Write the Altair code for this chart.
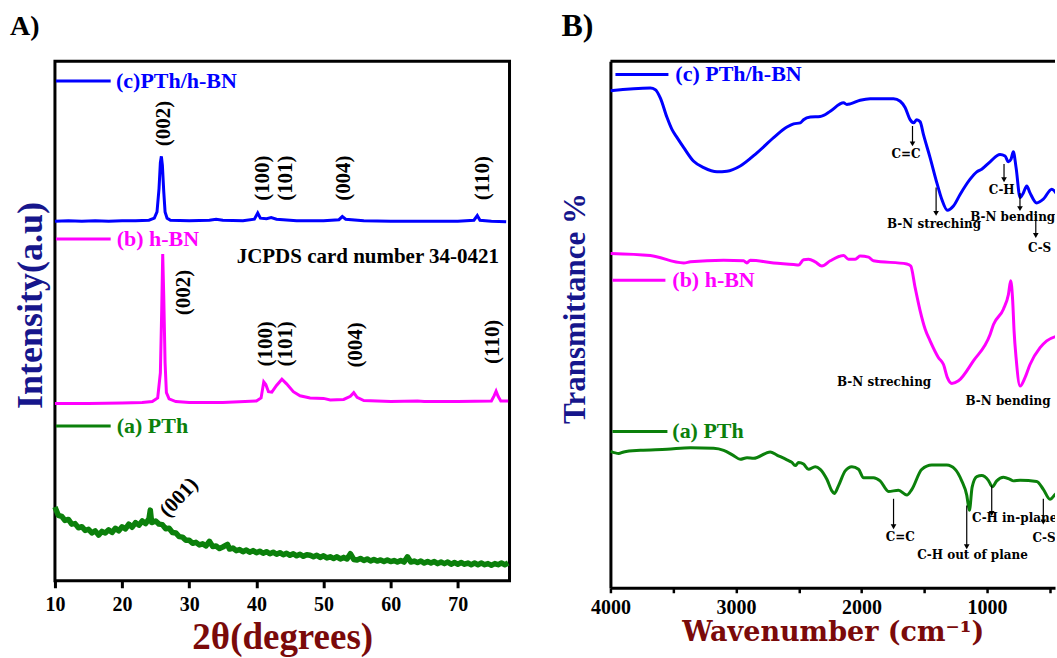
import altair as alt
import pandas as pd

SERIF = "Liberation Serif"
WIDE = "DejaVu Serif"
BLUE = "#0000ff"
MAGENTA = "#ff00ff"
GREEN = "#0b800b"
NAVY = "#16168c"
DARKRED = "#7a0a0a"

# ---------------- Panel A : XRD ----------------
xrd_comp_theta = [10, 12, 14, 16, 18, 20, 22, 24, 24.8, 25.2, 25.5, 25.7, 25.85, 26.0, 26.2, 26.4,
                  26.7, 27.2, 30, 33, 34, 35, 38, 39.7, 40.2, 40.6, 41.5, 42.2, 43, 46, 50, 52.3,
                  52.8, 53.3, 56, 60, 65, 70, 72.4, 72.9, 73.3, 75, 77.2]
xrd_comp_int = [69.2, 69.3, 69.2, 69.3, 69.2, 69.3, 69.3, 69.4, 69.8, 71.0, 75.5, 80.5, 81.7, 80.0,
                75.0, 71.0, 69.8, 69.4, 69.3, 69.4, 69.6, 69.4, 69.3, 69.6, 70.8, 69.8, 69.7, 69.9,
                69.6, 69.3, 69.3, 69.5, 70.1, 69.6, 69.3, 69.2, 69.2, 69.2, 69.4, 70.3, 69.4, 69.2, 69.1]

xrd_hbn_theta = [10, 15, 20, 23, 24.5, 25.3, 25.7, 25.9, 26.05, 26.2, 26.4, 26.6, 27.0, 28, 30, 35,
                 40, 40.7, 41.1, 41.4, 41.8, 42.3, 43.0, 43.8, 44.5, 45.5, 46.5, 48, 50, 51, 53,
                 54.0, 54.5, 55.0, 56, 60, 64, 65, 70, 75, 75.4, 75.7, 76.0, 76.4, 77.5]
xrd_hbn_int = [34.1, 34.1, 34.2, 34.3, 34.5, 35.2, 40.0, 52.0, 62.9, 55.0, 42.0, 36.2, 35.0, 34.5,
               34.3, 34.3, 34.6, 35.2, 38.3, 37.8, 36.4, 36.3, 37.6, 38.8, 37.9, 36.4, 35.6, 35.2,
               35.1, 34.8, 34.9, 35.5, 36.2, 35.3, 34.7, 34.5, 34.6, 34.5, 34.5, 34.6, 35.6, 36.5,
               35.5, 34.6, 34.6]

xrd_pth_points = [
    (10.0, 14.2), (10.5, 12.6), (11.0, 12.4), (11.5, 11.6), (12.0, 11.8), (12.5, 10.9),
    (13.0, 11.0), (13.5, 10.2), (14.0, 10.4), (14.5, 9.7), (15.0, 9.9), (15.5, 9.2),
    (16.0, 9.6), (16.5, 8.8), (17.0, 9.5), (17.5, 9.2), (18.0, 9.8), (18.5, 9.3),
    (19.0, 10.1), (19.5, 9.6), (20.0, 10.4), (20.5, 10.0), (21.0, 10.9), (21.5, 10.3),
    (22.0, 11.2), (22.5, 10.7), (23.0, 11.5), (23.5, 11.0), (24.0, 11.9), (24.2, 13.6),
    (24.4, 11.2), (25.0, 11.5), (25.5, 10.9), (26.0, 10.8), (26.5, 10.0), (27.0, 10.1),
    (27.5, 9.3), (28.0, 9.2), (28.5, 8.5), (29.0, 8.4), (29.5, 7.8), (30.0, 7.8),
    (30.5, 7.2), (31.0, 7.4), (31.5, 6.9), (32.0, 7.1), (32.5, 6.7), (33.0, 7.6),
    (33.5, 6.6), (34.0, 6.7), (34.5, 6.2), (35.0, 6.5), (35.7, 7.0), (36.0, 6.1),
    (36.5, 6.3), (37.0, 5.8), (37.5, 6.0), (38.0, 5.6), (38.5, 5.9), (39.0, 5.5),
    (39.5, 5.8), (40.0, 5.4), (40.5, 5.7), (41.0, 5.3), (41.5, 5.6), (42.0, 5.2),
    (42.5, 5.5), (43.0, 5.1), (43.5, 5.4), (44.0, 5.0), (44.5, 5.3), (45.0, 4.9),
    (45.5, 5.2), (46.0, 4.8), (46.5, 5.1), (47.0, 4.7), (47.5, 5.0), (48.0, 4.9),
    (48.5, 4.6), (49.0, 4.9), (49.5, 4.5), (50.0, 4.8), (50.5, 4.4), (51.0, 4.6),
    (51.5, 4.3), (52.0, 4.6), (52.5, 4.2), (53.0, 4.5), (53.5, 4.2), (54.0, 5.2),
    (54.5, 4.1), (55.0, 4.0), (55.5, 4.3), (56.0, 3.9), (56.5, 4.2), (57.0, 3.8),
    (57.5, 4.1), (58.0, 3.8), (58.5, 4.0), (59.0, 3.7), (59.5, 4.0), (60.0, 3.7),
    (60.5, 3.9), (61.0, 3.6), (61.5, 3.9), (62.0, 3.6), (62.5, 4.6), (63.0, 3.6),
    (63.5, 3.8), (64.0, 3.5), (64.5, 3.8), (65.0, 3.4), (65.5, 3.7), (66.0, 3.4),
    (66.5, 3.7), (67.0, 3.3), (67.5, 3.6), (68.0, 3.3), (68.5, 3.6), (69.0, 3.2),
    (69.5, 3.5), (70.0, 3.2), (70.5, 3.5), (71.0, 3.2), (71.5, 3.4), (72.0, 3.1),
    (72.5, 3.4), (73.0, 3.1), (73.5, 3.4), (74.0, 3.1), (74.5, 3.3), (75.0, 3.0),
    (75.5, 3.3), (76.0, 3.1), (76.5, 3.4), (77.0, 3.1), (77.5, 3.4),
]

xrd_peak_labels = ["(002)", "(100)", "(101)", "(004)", "(110)",
                   "(002)", "(100)", "(101)", "(004)", "(110)"]
xrd_peak_theta = [26.2, 41.0, 44.4, 53.0, 73.7, 29.2, 41.4, 44.4, 54.8, 75.2]
xrd_peak_y = [88.0, 77.5, 77.5, 77.5, 77.5, 55.5, 45.6, 45.6, 45.4, 46.0]
xrd_pth_label = ["(001)"]
xrd_pth_label_theta = [28.5]
xrd_pth_label_y = [16.0]
jcpds_text = ["JCPDS card number 34-0421"]
jcpds_theta = [56.6]
jcpds_y = [62.3]

xrd_legend_names = ["(c)PTh/h-BN", "(b) h-BN", "(a) PTh"]
xrd_legend_y = [96.2, 65.8, 29.8]
xrd_legend_x0 = [10.15, 10.15, 10.15]
xrd_legend_x1 = [18.3, 18.3, 18.3]
xrd_legend_tx = [19.1, 19.2, 19.2]

# ---------------- Panel B : FTIR ----------------
ftir_comp_points = [
    (4000, 94.4), (3682, 94.9), (3642, 94.6), (3602, 93.0), (3549, 89.3), (3509, 87.0),
    (3469, 85.5), (3416, 83.6), (3337, 81.0), (3257, 79.8), (3151, 79.0), (3072, 79.1),
    (2966, 80.1), (2833, 82.6), (2700, 85.5), (2594, 87.5), (2541, 88.1), (2488, 88.3),
    (2462, 88.9), (2408, 89.4), (2329, 89.5), (2302, 89.7), (2249, 90.5), (2143, 92.1),
    (2117, 91.8), (2090, 91.9), (2011, 92.6), (1931, 92.9), (1745, 92.9), (1692, 92.4),
    (1653, 91.2), (1613, 88.9), (1586, 88.3), (1560, 88.9), (1533, 88.5), (1507, 86.1),
    (1454, 81.7), (1400, 76.9), (1361, 73.8), (1316, 71.7), (1268, 72.5), (1215, 74.7),
    (1135, 77.6), (1082, 79.0), (1043, 79.5), (976, 80.9), (897, 82.3), (857, 82.0),
    (830, 80.9), (809, 81.4), (791, 82.8), (769, 79.8), (737, 74.1), (711, 75.0),
    (684, 76.3), (658, 75.0), (605, 73.1), (552, 73.8), (485, 75.7), (443, 74.7),
]
ftir_hbn_points = [
    (4000, 63.5), (3682, 63.1), (3416, 61.7), (3363, 61.9), (3098, 62.2), (2939, 62.1),
    (2913, 61.7), (2886, 62.2), (2700, 61.7), (2541, 61.4), (2501, 61.3), (2462, 62.3),
    (2422, 62.4), (2369, 61.9), (2316, 61.1), (2249, 62.1), (2143, 63.1), (2104, 62.4),
    (2050, 62.4), (2011, 63.0), (1944, 62.8), (1905, 62.1), (1639, 61.5), (1608, 61.1),
    (1573, 57.0), (1533, 52.6), (1493, 49.1), (1454, 46.9), (1387, 43.7), (1347, 42.4),
    (1316, 39.9), (1281, 38.8), (1228, 39.3), (1109, 43.1), (976, 48.1), (949, 50.0),
    (870, 52.9), (830, 55.7), (812, 58.3), (796, 54.5), (785, 48.8), (769, 43.7),
    (737, 38.3), (698, 39.9), (658, 42.4), (578, 45.6), (525, 46.9), (443, 47.8),
]
ftir_pth_points = [
    (4000, 25.9), (3934, 25.5), (3894, 25.8), (3761, 26.1), (3549, 26.3), (3363, 26.6),
    (3178, 26.5), (3098, 26.1), (3019, 25.1), (2966, 24.4), (2912, 24.7), (2859, 24.6),
    (2727, 25.8), (2674, 25.2), (2594, 24.3), (2554, 23.8), (2528, 23.2), (2501, 23.8),
    (2462, 23.5), (2422, 22.5), (2369, 23.0), (2329, 22.5), (2276, 20.6), (2236, 18.4),
    (2217, 17.9), (2183, 19.4), (2130, 22.2), (2077, 23.0), (2024, 22.5), (1984, 20.9),
    (1905, 20.9), (1852, 20.3), (1785, 18.3), (1706, 18.5), (1639, 17.6), (1599, 18.7),
    (1520, 22.5), (1440, 23.3), (1321, 23.3), (1255, 22.5), (1202, 20.3), (1162, 17.6),
    (1141, 14.7), (1119, 19.1), (1082, 21.1), (1043, 21.3), (990, 20.4), (958, 19.2),
    (923, 20.3), (870, 21.0), (817, 20.6), (791, 20.3), (737, 20.4), (605, 20.2),
    (552, 18.7), (499, 16.8), (459, 17.7), (443, 18.1),
]

ftir_arrow_wn = [1594, 1406, 865, 738, 612, 1745, 1162, 963, 552]
ftir_arrow_top = [87.7, 76.0, 80.5, 75.0, 71.5, 16.9, 15.6, 19.4, 16.9]
ftir_arrow_tip = [84.3, 71.1, 77.5, 72.0, 66.9, 11.6, 7.8, 14.1, 12.5]

ftir_label_text = ["C=C", "B-N streching", "C-H", "C-S", "B-N streching", "B-N bending",
                   "C=C", "C-H out of plane", "C-H in-plane", "C-S"]
ftir_label_wn = [1645, 1422, 883, 581, 1820, 833, 1692, 1116, 780, 546]
ftir_label_val = [82.4, 69.1, 75.5, 64.6, 39.1, 35.5, 9.7, 6.3, 13.3, 9.5]
ftir_left_label_text = ["B-N bending"]
ftir_left_label_wn = [1135]
ftir_left_label_val = [70.4]

ftir_legend_names = ["(c) PTh/h-BN", "(b) h-BN", "(a) PTh"]
ftir_legend_val = [97.5, 58.4, 29.7]
ftir_legend_wn0 = [3960, 3984, 3984]
ftir_legend_wn1 = [3538, 3562, 3546]
ftir_legend_twn = [3483, 3507, 3507]

series_colors = [BLUE, MAGENTA, GREEN]

# ---------------- data frames ----------------
df_xc = pd.DataFrame({"x": xrd_comp_theta, "y": xrd_comp_int})
df_xb = pd.DataFrame({"x": xrd_hbn_theta, "y": xrd_hbn_int})
df_xa = pd.DataFrame({"x": [p[0] for p in xrd_pth_points], "y": [p[1] for p in xrd_pth_points]})
df_xpk = pd.DataFrame({"x": xrd_peak_theta, "y": xrd_peak_y, "t": xrd_peak_labels})
df_x001 = pd.DataFrame({"x": xrd_pth_label_theta, "y": xrd_pth_label_y, "t": xrd_pth_label})
df_jc = pd.DataFrame({"x": jcpds_theta, "y": jcpds_y, "t": jcpds_text})
df_xleg = pd.DataFrame({"x": xrd_legend_x0, "x2": xrd_legend_x1, "tx": xrd_legend_tx,
                        "y": xrd_legend_y, "name": xrd_legend_names})

df_fc = pd.DataFrame({"x": [p[0] for p in ftir_comp_points], "y": [p[1] for p in ftir_comp_points]})
df_fb = pd.DataFrame({"x": [p[0] for p in ftir_hbn_points], "y": [p[1] for p in ftir_hbn_points]})
df_fa = pd.DataFrame({"x": [p[0] for p in ftir_pth_points], "y": [p[1] for p in ftir_pth_points]})
df_arr = pd.DataFrame({"x": ftir_arrow_wn, "y": ftir_arrow_top, "y2": ftir_arrow_tip})
df_lab = pd.DataFrame({"x": ftir_label_wn, "y": ftir_label_val, "t": ftir_label_text})
df_labl = pd.DataFrame({"x": ftir_left_label_wn, "y": ftir_left_label_val, "t": ftir_left_label_text})
df_fleg = pd.DataFrame({"x": ftir_legend_wn0, "x2": ftir_legend_wn1, "tx": ftir_legend_twn,
                        "y": ftir_legend_val, "name": ftir_legend_names})

# ---------------- Panel A ----------------
WA, HA = 455, 520
xA = alt.X("x:Q", scale=alt.Scale(domain=[10, 77.7], nice=False, zero=False),
           axis=alt.Axis(values=[10, 20, 30, 40, 50, 60, 70], format="d", grid=False,
                         domain=False, tickSize=7, tickWidth=3, tickColor="black",
                         labelFont=SERIF, labelFontSize=20, labelFontWeight="bold",
                         labelColor="black", labelPadding=7, labelFlush=False,
                         title="2θ(degrees)", titleFont=SERIF, titleFontSize=37,
                         titleFontWeight="bold", titleColor=DARKRED,
                         titleBaseline="alphabetic", titleY=68))
yA = alt.Y("y:Q", scale=alt.Scale(domain=[0, 100], nice=False, zero=False),
           axis=alt.Axis(labels=False, ticks=False, domain=False, grid=False,
                         title="Intensity(a.u)", titleFont=SERIF, titleFontSize=36,
                         titleFontWeight="bold", titleColor=NAVY, titleAngle=270,
                         titleX=-24, titleY=244, titleAlign="center", titleBaseline="middle"))

leg_color_A = alt.Color("name:N", scale=alt.Scale(domain=xrd_legend_names, range=series_colors),
                        legend=None)

left = alt.layer(
    alt.Chart(df_xa).mark_line(color=GREEN, strokeWidth=5.5, strokeJoin="round").encode(x=xA, y=yA),
    alt.Chart(df_xb).mark_line(color=MAGENTA, strokeWidth=3).encode(x=xA, y=yA),
    alt.Chart(df_xc).mark_line(color=BLUE, strokeWidth=3).encode(x=xA, y=yA),
    alt.Chart(df_xpk).mark_text(angle=270, font=SERIF, fontSize=21, fontWeight="bold",
                                color="black").encode(x=xA, y=yA, text="t:N"),
    alt.Chart(df_x001).mark_text(angle=313, font=SERIF, fontSize=21, fontWeight="bold",
                                 color="black").encode(x=xA, y=yA, text="t:N"),
    alt.Chart(df_jc).mark_text(font=SERIF, fontSize=21, fontWeight="bold",
                               color="black").encode(x=xA, y=yA, text="t:N"),
    alt.Chart(df_xleg).mark_rule(strokeWidth=3).encode(x=xA, x2="x2:Q", y=yA, color=leg_color_A),
    alt.Chart(df_xleg).mark_text(align="left", baseline="middle", font=SERIF, fontSize=22,
                                 fontWeight="bold").encode(x=alt.X("tx:Q", scale=alt.Scale(domain=[10, 77.7], nice=False, zero=False)),
                                                           y=yA, text="name:N", color=leg_color_A),
    alt.Chart(pd.DataFrame({"t": ["A)"]})).mark_text(align="left", baseline="top", font=SERIF,
                                                      fontSize=28, fontWeight="bold", color="black"
                                                      ).encode(x=alt.value(-45), y=alt.value(-48), text="t:N"),
).properties(width=WA, height=HA, view=alt.ViewBackground(stroke="black", strokeWidth=3))

# ---------------- Panel B ----------------
WB, HB = 445, 527
xB = alt.X("x:Q", scale=alt.Scale(domain=[459, 4000], reverse=True, nice=False, zero=False),
           axis=alt.Axis(values=[4000, 3500, 3000, 2500, 2000, 1500, 1000, 500], format="d",
                         labelExpr="datum.value % 1000 == 0 ? datum.label : ''",
                         grid=False, domain=True, domainColor="black", domainWidth=3,
                         tickSize=5, tickWidth=2.5, tickColor="black",
                         labelFont=SERIF, labelFontSize=20, labelFontWeight="bold",
                         labelColor="black", labelPadding=5, labelFlush=False,
                         title="Wavenumber (cm⁻¹)", titleFont=WIDE, titleFontSize=27,
                         titleFontWeight="bold", titleColor=DARKRED,
                         titleBaseline="alphabetic", titleY=53))
yB = alt.Y("y:Q", scale=alt.Scale(domain=[0, 100], nice=False, zero=False),
           axis=alt.Axis(labels=False, ticks=False, domain=True, domainColor="black",
                         domainWidth=3, grid=False,
                         title="Transmittance %", titleFont=SERIF, titleFontSize=31,
                         titleFontWeight="bold", titleColor=NAVY, titleAngle=270,
                         titleX=-35, titleY=247, titleAlign="center", titleBaseline="middle"))

leg_color_B = alt.Color("name:N", scale=alt.Scale(domain=ftir_legend_names, range=series_colors),
                        legend=None)

right = alt.layer(
    alt.Chart(df_fa).mark_line(color=GREEN, strokeWidth=3, interpolate="monotone", clip=True).encode(x=xB, y=yB),
    alt.Chart(df_fb).mark_line(color=MAGENTA, strokeWidth=3, interpolate="monotone", clip=True).encode(x=xB, y=yB),
    alt.Chart(df_fc).mark_line(color=BLUE, strokeWidth=3, interpolate="monotone", clip=True).encode(x=xB, y=yB),
    alt.Chart(df_arr).mark_rule(color="black", strokeWidth=1.2).encode(x=xB, y=yB, y2="y2:Q"),
    alt.Chart(df_arr).mark_point(shape="triangle-down", filled=True, color="black", size=32,
                                 opacity=1).encode(x=xB, y=alt.Y("y2:Q", scale=alt.Scale(domain=[0, 100], nice=False, zero=False))),
    alt.Chart(df_lab).mark_text(font=WIDE, fontSize=12, fontWeight="bold", color="black",
                                clip=True).encode(x=xB, y=yB, text="t:N"),
    alt.Chart(df_labl).mark_text(align="left", font=WIDE, fontSize=12, fontWeight="bold",
                                 color="black", clip=True).encode(x=xB, y=yB, text="t:N"),
    alt.Chart(df_fleg).mark_rule(strokeWidth=3).encode(x=xB, x2="x2:Q", y=yB, color=leg_color_B),
    alt.Chart(df_fleg).mark_text(align="left", baseline="middle", font=SERIF, fontSize=22,
                                 fontWeight="bold").encode(
        x=alt.X("tx:Q", scale=alt.Scale(domain=[459, 4000], reverse=True, nice=False, zero=False)),
        y=yB, text="name:N", color=leg_color_B),
    alt.Chart(pd.DataFrame({"a": [0]})).mark_rule(color="black", strokeWidth=3).encode(
        x=alt.value(0), x2=alt.value(WB), y=alt.value(0)),
    alt.Chart(pd.DataFrame({"t": ["B)"]})).mark_text(align="left", baseline="top", font=SERIF,
                                                      fontSize=32, fontWeight="bold", color="black"
                                                      ).encode(x=alt.value(-49), y=alt.value(-50), text="t:N"),
).properties(width=WB, height=HB, view=alt.ViewBackground(stroke="transparent", strokeWidth=0))

chart = alt.hconcat(left, right, spacing=101, bounds="flush").properties(
    padding={"left": 8, "top": 10, "right": 0, "bottom": 0},
    background="white",
)

chart.save("out.html", embed_options={"renderer": "svg", "actions": False})
